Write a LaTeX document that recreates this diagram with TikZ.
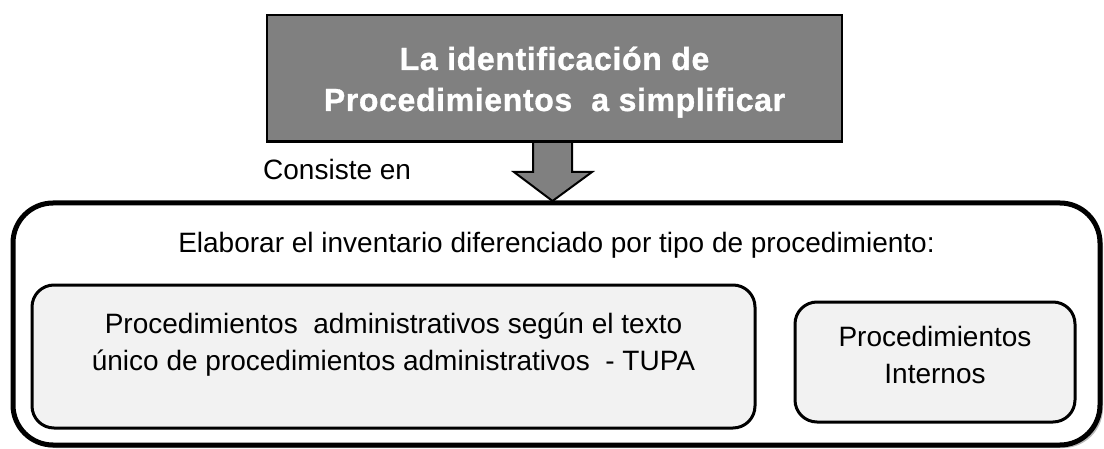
\documentclass[tikz,border=0pt]{standalone}
\usepackage{fontspec}
\setmainfont{Liberation Sans}
\usetikzlibrary{calc}
\usetikzlibrary{shadows}
\definecolor{titlegray}{RGB}{128,128,128}
\definecolor{boxgray}{RGB}{242,242,242}

\begin{document}
\begin{tikzpicture}[x=1pt,y=1pt,
    titlebox/.style={draw, line width=2pt, fill=titlegray,
      minimum width=575pt, minimum height=126pt, inner sep=0pt},
    titletext/.style={text=white, align=center, inner sep=0pt,
      font=\fontsize{32}{41}\selectfont\bfseries\addfontfeature{LetterSpace=2,FakeBold=1}},
    outerbox/.style={draw, line width=5pt, rounded corners=40pt, fill=white,
      minimum width=1087pt, minimum height=242pt,
      drop shadow={shadow xshift=3pt, shadow yshift=-3pt, fill=black!55}},
    innerbox/.style={draw, line width=3pt, rounded corners=22pt, fill=boxgray, inner sep=0pt},
    txt/.style={font=\fontsize{28}{37}\selectfont, align=center, inner sep=0pt},
    arrw/.style={draw, line width=2pt, fill=titlegray, line join=miter}]
  \useasboundingbox (0,0) rectangle (1104,448);

  \node[outerbox] (outer) at (556.5,124) {};
  \node[txt, anchor=base] (elab) at ($(outer.north)+(0,-52)$)
    {Elaborar el inventario diferenciado por tipo de procedimiento:};

  \node[innerbox, minimum width=723pt, minimum height=143pt] (tupa) at (393.5,91.5) {};
  \node[txt, anchor=base] (tupatxt) at ($(tupa.north)+(0,-87)$)
    {Procedimientos~ administrativos según el texto\\único de procedimientos administrativos~ - TUPA};

  \node[innerbox, minimum width=280pt, minimum height=120pt] (intern) at (935,86) {};
  \node[txt, anchor=base] (interntxt) at ($(intern.north)+(0,-83)$) {Procedimientos\\Internos};

  \node[titlebox] (title) at (554.5,370) {};
  \node[titletext, anchor=base] (titletxt) at ($(title.south)+(0,31)$)
    {La identificación de\\Procedimientos~ a simplificar};
  \coordinate (tip) at ($(title.south)+(-2,-59)$);
  \draw[arrw] ($(title.south)+(-21.5,0)$) -- ++(0,-30) -- ++(-19,0) -- (tip)
    -- ++(39.5,29) -- ++(-20,0) -- ++(0,30);
  \draw[line width=2pt] (title.south west) -- (title.south east);

  \node[txt, anchor=base west] (cons) at (263,268) {Consiste en};
\end{tikzpicture}
\end{document}
